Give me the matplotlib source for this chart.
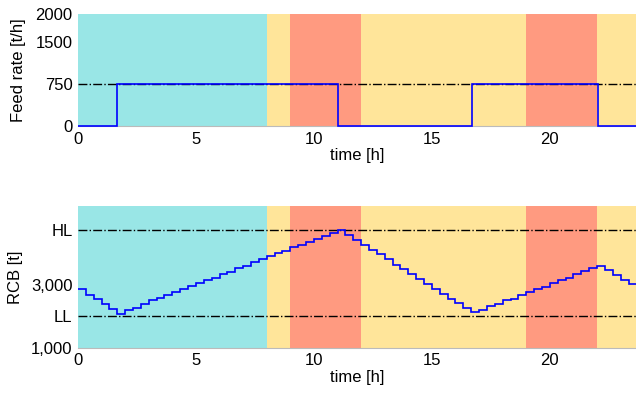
import numpy as np
import matplotlib
matplotlib.use("Agg")
import matplotlib.pyplot as plt

plt.rcParams['font.family'] = ['Liberation Sans', 'DejaVu Sans']
plt.rcParams['font.size'] = 12

# operating periods (hours) and their colour class
band_edges = [0, 8, 9, 12, 19, 22, 24]
band_kind = ['cyan', 'yellow', 'red', 'yellow', 'red', 'yellow']
band_colors = {'cyan': '#99E6E6', 'yellow': '#FFE59A', 'red': '#FF9A80'}

# feed rate steps [t/h]
feed_times = [0, 1.65, 11.03, 16.7, 22.05, 23.65]
feed_vals = [0, 750, 0, 750, 0]
feed_ref = 750

# RCB level, one value per 20 min step [t]
step_h = 1 / 3
rcb = [2860, 2690, 2540, 2380, 2230, 2070, 2190, 2270, 2380, 2500,
       2580, 2690, 2770, 2880, 2960, 3050, 3150, 3220, 3340, 3420,
       3530, 3600, 3720, 3820, 3920, 4010, 4080, 4190, 4270, 4370,
       4450, 4540, 4640, 4730, 4590, 4410, 4270, 4110, 3980, 3820,
       3640, 3500, 3340, 3190, 3030, 2880, 2720, 2560, 2410, 2260,
       2120, 2200, 2310, 2390, 2500, 2560, 2680, 2760, 2870, 2940,
       3050, 3150, 3230, 3350, 3430, 3530, 3600, 3470, 3310, 3150,
       3010]
LL = 2000
HL = 4750

xmax = 23.65

fig = plt.figure(figsize=(6.36, 3.94), dpi=100)
ax1 = fig.add_axes([0.1226, 0.680, 0.8774, 0.2845])
ax2 = fig.add_axes([0.1226, 0.1175, 0.8774, 0.3595])

for ax in (ax1, ax2):
    for a, b, k in zip(band_edges[:-1], band_edges[1:], band_kind):
        ax.axvspan(a, b, color=band_colors[k], lw=0, zorder=0)
    ax.set_xlim(0, xmax)
    ax.set_xticks([0, 5, 10, 15, 20])
    ax.set_xlabel('time [h]', labelpad=1)
    ax.tick_params(length=0, pad=4)
    for s in ['top', 'right', 'left']:
        ax.spines[s].set_visible(False)
    ax.spines['bottom'].set_color('#BBBBBB')
    ax.spines['bottom'].set_linewidth(0.8)
    ax.spines['bottom'].set_zorder(1)

# feed rate
ax1.axhline(feed_ref, color='black', ls='-.', lw=1, zorder=2)
ax1.stairs(feed_vals, feed_times, color='#0000FF', lw=1.2, zorder=3,
           baseline=None, clip_on=False)
ax1.set_ylim(0, 2000)
ax1.set_yticks([0, 750, 1500, 2000])
ax1.set_ylabel('Feed rate [t/h]')
ax1.yaxis.set_label_coords(-0.093, 0.5)

# RCB
edges = np.arange(len(rcb) + 1) * step_h
ax2.axhline(HL, color='black', ls='-.', lw=1, zorder=2)
ax2.axhline(LL, color='black', ls='-.', lw=1, zorder=2)
ax2.stairs(rcb, edges, color='#0000FF', lw=1.2, zorder=3, baseline=None)
ax2.set_ylim(1000, 5500)
ax2.set_yticks([1000, LL, 3000, HL])
ax2.set_yticklabels(['1,000', 'LL', '3,000', 'HL'])
ax2.set_ylabel('RCB [t]')
ax2.yaxis.set_label_coords(-0.098, 0.5)

fig.savefig('out.png', dpi=100)
